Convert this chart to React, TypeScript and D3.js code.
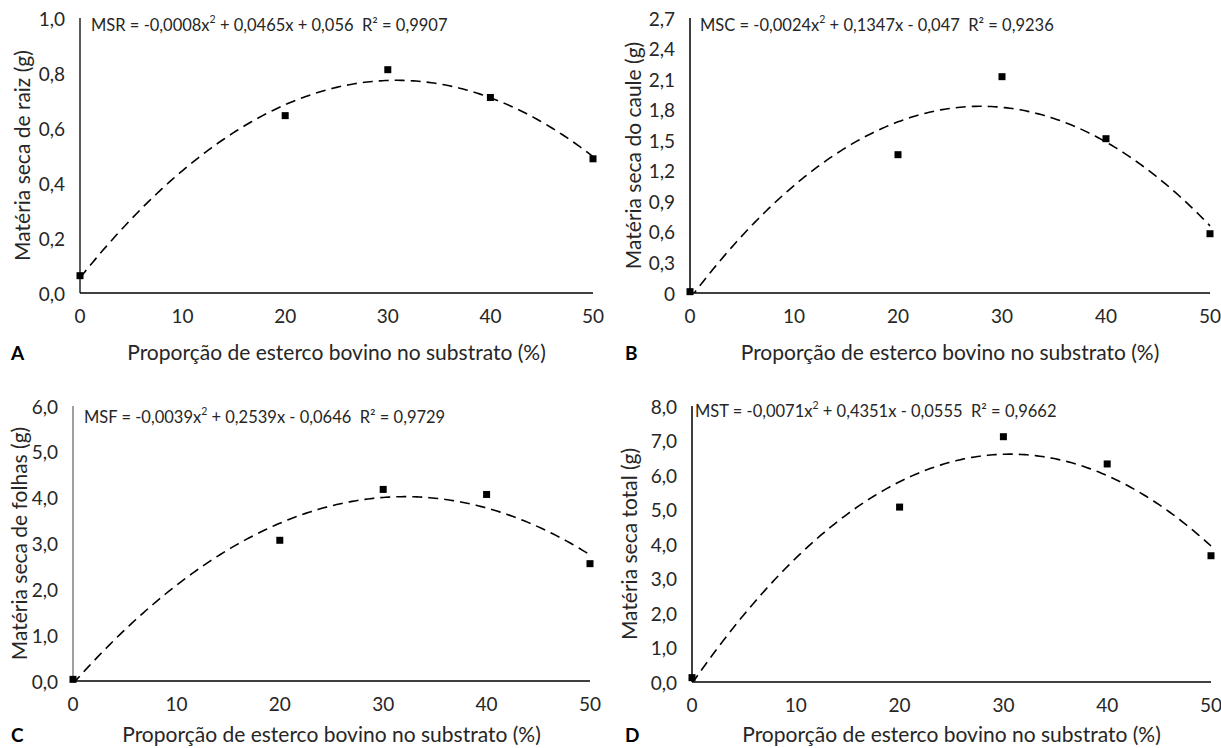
import React from 'react';
import * as d3 from 'd3';

// manure proportion in substrate (%)
const doses = [0, 20, 30, 40, 50];
const xTicks = [0, 10, 20, 30, 40, 50];

// dry matter values (g)
const msrValues = [0.063, 0.645, 0.812, 0.711, 0.488];
const mscValues = [0.013, 1.358, 2.124, 1.515, 0.582];
const msfValues = [0.036, 3.07, 4.18, 4.07, 2.56];
const mstValues = [0.126, 5.07, 7.11, 6.32, 3.66];

const msrTicks = [0, 0.2, 0.4, 0.6, 0.8, 1.0];
const msrTickLabels = ['0,0', '0,2', '0,4', '0,6', '0,8', '1,0'];
const mscTicks = [0, 0.3, 0.6, 0.9, 1.2, 1.5, 1.8, 2.1, 2.4, 2.7];
const mscTickLabels = ['0', '0,3', '0,6', '0,9', '1,2', '1,5', '1,8', '2,1', '2,4', '2,7'];
const msfTicks = [0, 1, 2, 3, 4, 5, 6];
const msfTickLabels = ['0,0', '1,0', '2,0', '3,0', '4,0', '5,0', '6,0'];
const mstTicks = [0, 1, 2, 3, 4, 5, 6, 7, 8];
const mstTickLabels = ['0,0', '1,0', '2,0', '3,0', '4,0', '5,0', '6,0', '7,0', '8,0'];

const yTitles = ['Matéria seca de raiz (g)', 'Matéria seca do caule (g)', 'Matéria seca de folhas (g)', 'Matéria seca total (g)'];
const xTitle = 'Proporção de esterco bovino no substrato (%)';
const letters = ['A', 'B', 'C', 'D'];
// equation text: [before superscript, after superscript]
const equations = [
  ['MSR = -0,0008x', ' + 0,0465x + 0,056  R² = 0,9907'],
  ['MSC = -0,0024x', ' + 0,1347x - 0,047  R² = 0,9236'],
  ['MSF = -0,0039x', ' + 0,2539x - 0,0646  R² = 0,9729'],
  ['MST = -0,0071x', ' + 0,4351x - 0,0555  R² = 0,9662'],
];

// least squares fit y = a x^2 + b x + c (excel polynomial trendline)
function fitQuadratic(xs, ys) {
  const n = xs.length;
  let s1 = 0, s2 = 0, s3 = 0, s4 = 0, t0 = 0, t1 = 0, t2 = 0;
  for (let i = 0; i < n; i++) {
    const x = xs[i], y = ys[i];
    s1 += x; s2 += x * x; s3 += x * x * x; s4 += x * x * x * x;
    t0 += y; t1 += x * y; t2 += x * x * y;
  }
  const det3 = (m) =>
    m[0][0] * (m[1][1] * m[2][2] - m[1][2] * m[2][1]) -
    m[0][1] * (m[1][0] * m[2][2] - m[1][2] * m[2][0]) +
    m[0][2] * (m[1][0] * m[2][1] - m[1][1] * m[2][0]);
  const M = [[s4, s3, s2], [s3, s2, s1], [s2, s1, n]];
  const T = [t2, t1, t0];
  const D = det3(M);
  const col = (k) => M.map((row, i) => row.map((v, j) => (j === k ? T[i] : v)));
  return [det3(col(0)) / D, det3(col(1)) / D, det3(col(2)) / D];
}

const FONT = 'Lato, "Open Sans", sans-serif';
const TXT = '#262626';

const Panel = ({ id, box, values, ticks, tickLabels, title, eq, letter, yAxisColor }) => {
  const x = d3.scaleLinear().domain([0, 50]).range([box.x0, box.x1]);
  const y = d3.scaleLinear().domain([0, ticks[ticks.length - 1]]).range([box.yBot, box.yTop]);
  const [a, b, c] = fitQuadratic(doses, values);
  const samples = d3.range(0, 50.0001, 0.25).map((t) => [t, a * t * t + b * t + c]);
  const line = d3.line().x((d) => x(d[0])).y((d) => y(d[1]));
  const midY = (box.yTop + box.yBot) / 2;
  const midX = (box.x0 + box.x1) / 2;

  return (
    <g>
      <defs>
        <clipPath id={'clip' + id}>
          <rect x={box.x0} y={box.yTop - 10} width={box.x1 - box.x0 + 2} height={box.yBot - box.yTop + 10} />
        </clipPath>
      </defs>
      {/* axes */}
      <line x1={box.x0} x2={box.x0} y1={y.range()[1]} y2={y.range()[0]} stroke={yAxisColor} strokeWidth={1.5} />
      <line x1={x.range()[0]} x2={x.range()[1]} y1={box.yBot} y2={box.yBot} stroke="#000" strokeWidth={1.5} />

      {ticks.map((t, i) => (
        <text key={'y' + i} x={box.x0 - 15} y={y(t)} textAnchor="end" dominantBaseline="central"
          fontSize={19} fill={TXT}>{tickLabels[i]}</text>
      ))}
      {xTicks.map((t) => (
        <text key={'x' + t} x={x(t)} y={box.yBot + 22} textAnchor="middle" dominantBaseline="central"
          fontSize={19} fill={TXT}>{t}</text>
      ))}

      <text transform={`translate(${box.titleX},${midY}) rotate(-90)`} textAnchor="middle"
        dominantBaseline="central" fontSize={21} fill={TXT}>{title}</text>
      <text x={midX} y={box.xTitleY} textAnchor="middle" dominantBaseline="central"
        fontSize={21} fill={TXT}>{xTitle}</text>
      <text x={box.letterX} y={box.letterY} dominantBaseline="central" fontSize={19}
        fontWeight="bold" fill="#000">{letter}</text>

      <text x={box.eqX} y={box.eqY} dominantBaseline="central" fontSize={16.5} fill={TXT}
        style={{ whiteSpace: 'pre' }}>
        {eq[0]}<tspan dy={-6} fontSize={10.5}>2</tspan><tspan dy={6}>{eq[1]}</tspan>
      </text>

      <path d={line(samples)} fill="none" stroke="#000" strokeWidth={1.6} strokeDasharray="10,6"
        clipPath={`url(#clip${id})`} />

      {doses.map((d, i) => (
        <rect key={'p' + i} x={x(d) - 3.5} y={y(values[i]) - 3.5} width={7} height={7} fill="#000" />
      ))}
    </g>
  );
};

const boxes = [
  { x0: 80, x1: 593, yTop: 18, yBot: 293, titleX: 21, letterX: 11, letterY: 352, xTitleY: 351, eqX: 91, eqY: 25 },
  { x0: 690, x1: 1210, yTop: 18, yBot: 293, titleX: 632, letterX: 625, letterY: 352, xTitleY: 351, eqX: 700, eqY: 25 },
  { x0: 73, x1: 590, yTop: 406, yBot: 681, titleX: 18, letterX: 11, letterY: 734, xTitleY: 733, eqX: 84, eqY: 417 },
  { x0: 692, x1: 1211, yTop: 406, yBot: 682, titleX: 628, letterX: 625, letterY: 734, xTitleY: 733, eqX: 695, eqY: 411 },
];

const seriesList = [msrValues, mscValues, msfValues, mstValues];
const tickList = [msrTicks, mscTicks, msfTicks, mstTicks];
const tickLabelList = [msrTickLabels, mscTickLabels, msfTickLabels, mstTickLabels];
const yAxisColors = ['#262626', '#000', '#7f7f7f', '#000'];

export default function App() {
  return (
    <svg width={1221} height={748} style={{ position: 'absolute', left: 0, top: 0, background: '#fff' }}
      fontFamily={FONT}>
      {boxes.map((box, i) => (
        <Panel key={i} id={i} box={box} values={seriesList[i]} ticks={tickList[i]}
          tickLabels={tickLabelList[i]} title={yTitles[i]} eq={equations[i]} letter={letters[i]}
          yAxisColor={yAxisColors[i]} />
      ))}
    </svg>
  );
}
